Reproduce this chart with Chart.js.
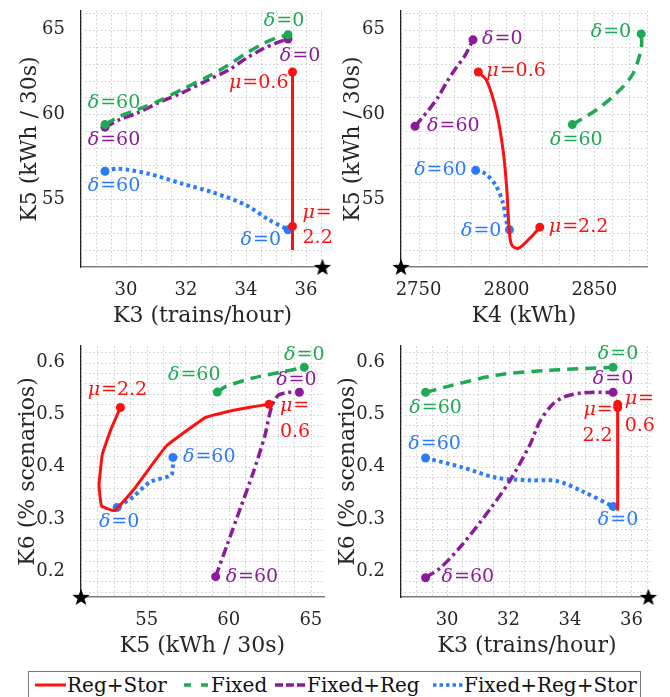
<!DOCTYPE html>
<html><head><meta charset="utf-8">
<script src="https://cdn.jsdelivr.net/npm/chart.js@4.4.1/dist/chart.umd.min.js"></script>
<style>
html,body{margin:0;padding:0;background:#fff;}
body{width:670px;height:697px;position:relative;overflow:hidden;font-family:"DejaVu Serif",serif;}
canvas{position:absolute;}
#legend{position:absolute;left:28px;top:671px;width:613px;height:30px;border:1px solid #7a7a7a;box-sizing:border-box;background:#fff;}
#legend svg{position:absolute;top:10px;}
#legend span{position:absolute;top:0;line-height:26px;font-size:20px;color:#111;white-space:nowrap;}
</style></head>
<body>
<canvas id="c1" width="335" height="335" style="left:0;top:0"></canvas>
<canvas id="c2" width="335" height="335" style="left:335px;top:0"></canvas>
<canvas id="c3" width="335" height="335" style="left:0;top:335px"></canvas>
<canvas id="c4" width="335" height="335" style="left:335px;top:335px"></canvas>
<div id="legend">
  <svg style="left:6px" width="31" height="6"><line x1="0" y1="3" x2="31" y2="3" stroke="#ff1010" stroke-width="3"/></svg>
  <span style="left:38px">Reg+Stor</span>
  <svg style="left:155px" width="25" height="6"><line x1="0" y1="3" x2="25" y2="3" stroke="#1eaa55" stroke-width="3.5" stroke-dasharray="7,10"/></svg>
  <span style="left:182px">Fixed</span>
  <svg style="left:246px" width="31" height="6"><line x1="0" y1="3" x2="31" y2="3" stroke="#8c1a9a" stroke-width="3.5" stroke-dasharray="8,3"/></svg>
  <span style="left:278px">Fixed+Reg</span>
  <svg style="left:404px" width="31" height="6"><line x1="0" y1="3" x2="31" y2="3" stroke="#2b7bff" stroke-width="3.5" stroke-dasharray="3.5,3"/></svg>
  <span style="left:435px">Fixed+Reg+Stor</span>
</div>
<script>
// ---------- data ----------
const utopiaK3 = 36.55, utopiaK4 = 2740, utopiaK5 = 51, utopiaK6 = 0.15;

// Panel 1: K3 vs K5
const p1RegStorK3 = [35.55, 35.55, 35.55, 35.55];
const p1RegStorK5 = [62.5, 57.5, 52.0, 53.4];
const p1FixedK3 = [29.3, 29.8, 30.4, 31.1, 31.9, 32.7, 33.4, 34.0, 34.6, 35.0, 35.4];
const p1FixedK5 = [59.4, 59.9, 60.3, 60.8, 61.5, 62.2, 62.9, 63.6, 64.2, 64.5, 64.7];
const p1FixedRegK3 = [29.3, 29.8, 30.4, 31.1, 31.9, 32.7, 33.4, 34.0, 34.6, 35.0, 35.4];
const p1FixedRegK5 = [59.25, 59.7, 60.1, 60.7, 61.3, 62.0, 62.6, 63.3, 63.9, 64.2, 64.45];
const p1FixedRegStorK3 = [29.3, 29.75, 30.75, 31.9, 32.9, 34.0, 34.75, 35.4];
const p1FixedRegStorK5 = [56.65, 56.8, 56.5, 55.9, 55.4, 54.65, 53.8, 53.2];

// Panel 2: K4 vs K5
const p2RegStorK4 = [2784, 2788.8, 2794.5, 2798.2, 2800.2, 2801.5, 2803, 2806.8, 2813.4, 2819];
const p2RegStorK5 = [62.5, 62.0, 60.1, 57.8, 55.6, 53.3, 52.3, 52.1, 52.7, 53.35];
const p2FixedK4 = [2837.5, 2844, 2851.7, 2860, 2867, 2872, 2875, 2876.7, 2877, 2876.7];
const p2FixedK5 = [59.4, 59.8, 60.3, 61.0, 61.7, 62.4, 63.2, 63.9, 64.3, 64.75];
const p2FixedRegK4 = [2748, 2752, 2756, 2761, 2766, 2771, 2776, 2781];
const p2FixedRegK5 = [59.3, 59.8, 60.3, 61.0, 61.9, 62.7, 63.4, 64.4];
const p2FixedRegStorK4 = [2782.5, 2788, 2794, 2798, 2800, 2801.7];
const p2FixedRegStorK5 = [56.7, 56.5, 55.8, 54.8, 53.7, 53.2];

// Panel 3: K5 vs K6
const p3RegStorK5 = [62.45, 61.2, 60.2, 58.6, 56.2, 54.2, 53.05, 52.25, 52.1, 52.3, 52.8, 53.4];
const p3RegStorK6 = [0.52, 0.514, 0.508, 0.495, 0.440, 0.356, 0.316, 0.325, 0.365, 0.424, 0.47, 0.514];
const p3FixedK5 = [59.3, 59.8, 61.4, 63.2, 64.6];
const p3FixedK6 = [0.5435, 0.554, 0.570, 0.582, 0.591];
const p3FixedRegK5 = [59.2, 59.9, 60.7, 61.5, 62.2, 62.6, 63.0, 63.6, 64.3];
const p3FixedRegK6 = [0.189, 0.25, 0.32, 0.39, 0.46, 0.515, 0.537, 0.543, 0.543];
const p3FixedRegStorK5 = [56.6, 56.6, 56.5, 55.2, 54.2, 53.2];
const p3FixedRegStorK6 = [0.418, 0.402, 0.384, 0.371, 0.343, 0.322];

// Panel 4: K3 vs K6
const p4RegStorK3 = [35.55, 35.55, 35.55];
const p4RegStorK6 = [0.52, 0.316, 0.514];
const p4FixedK3 = [29.3, 30.0, 31.6, 33.25, 35.4];
const p4FixedK6 = [0.543, 0.554, 0.576, 0.585, 0.591];
const p4FixedRegK3 = [29.3, 29.8, 30.5, 31.4, 32.05, 32.7, 33.0, 33.4, 33.8, 34.4, 35.4];
const p4FixedRegK6 = [0.187, 0.207, 0.251, 0.319, 0.374, 0.443, 0.485, 0.518, 0.534, 0.542, 0.543];
const p4FixedRegStorK3 = [29.3, 30.5, 31.6, 32.7, 33.55, 34.4, 35.4];
const p4FixedRegStorK6 = [0.417, 0.399, 0.379, 0.374, 0.373, 0.353, 0.324];

// tick labels
const ticksK3 = [30, 32, 34, 36];
const ticksK4 = [2750, 2800, 2850];
const ticksK5 = [55, 60, 65];
const ticksK6 = [0.2, 0.3, 0.4, 0.5, 0.6];

// ---------- styling ----------
const RED = '#ff1010', GREEN = '#1eaa55', PURPLE = '#8c1a9a', BLUE = '#2b7bff';
const FAM = '"DejaVu Serif", serif';
const styles = [
  {label:'Reg+Stor', color:RED, dash:[], width:3},
  {label:'Fixed', color:GREEN, dash:[11,7], width:3.5},
  {label:'Fixed+Reg', color:PURPLE, dash:[10,4,3,4], width:3.5},
  {label:'Fixed+Reg+Stor', color:BLUE, dash:[3.5,3.5], width:4}
];

function pts(xs, ys){ return xs.map((x,i)=>({x:x, y:ys[i]})); }

const starImg = (function(){
  const c = document.createElement('canvas'); c.width = 20; c.height = 20;
  const g = c.getContext('2d'); g.fillStyle = '#000'; g.beginPath();
  for (let i=0;i<10;i++){
    const r = i%2===0 ? 9 : 3.7;
    const a = -Math.PI/2 + i*Math.PI/5;
    const px = 10 + r*Math.cos(a), py = 10.8 + r*Math.sin(a);
    if(i===0) g.moveTo(px,py); else g.lineTo(px,py);
  }
  g.closePath(); g.fill();
  return c;
})();

function gridPlugin(stepX, stepY){
  return {
    id:'minorGrid',
    beforeDatasetsDraw(chart){
      const {ctx, chartArea:a} = chart;
      const xs = chart.scales.x, ys = chart.scales.y;
      ctx.save();
      ctx.strokeStyle = '#cccccc'; ctx.lineWidth = 1; ctx.setLineDash([1.5,2.5]);
      const i0 = Math.ceil(xs.min/stepX - 1e-9), i1 = Math.floor(xs.max/stepX + 1e-9);
      for(let i=i0;i<=i1;i++){
        const px = Math.round(xs.getPixelForValue(i*stepX))+0.5;
        ctx.beginPath(); ctx.moveTo(px, a.top); ctx.lineTo(px, a.bottom); ctx.stroke();
      }
      const j0 = Math.ceil(ys.min/stepY - 1e-9), j1 = Math.floor(ys.max/stepY + 1e-9);
      for(let j=j0;j<=j1;j++){
        const py = Math.round(ys.getPixelForValue(j*stepY))+0.5;
        ctx.beginPath(); ctx.moveTo(a.left, py); ctx.lineTo(a.right, py); ctx.stroke();
      }
      ctx.restore();
    }
  };
}

function labelPlugin(items){
  return {
    id:'ptLabels',
    afterDatasetsDraw(chart){
      const ctx = chart.ctx, xs = chart.scales.x, ys = chart.scales.y;
      const fN = '19px ' + FAM, fI = 'italic 19px ' + FAM;
      items.forEach(it=>{
        const ds = chart.data.datasets[it.ds];
        const p = it.at==='first' ? ds.data[0] : ds.data[ds.data.length-1];
        const px = xs.getPixelForValue(p.x) + it.dx;
        const py = ys.getPixelForValue(p.y) + it.dy;
        ctx.save();
        ctx.fillStyle = ds.borderColor; ctx.textBaseline = 'middle'; ctx.textAlign = 'left';
        ctx.font = fI; const w1 = it.sym ? ctx.measureText(it.sym).width + 1 : 0;
        ctx.font = fN; const w2 = ctx.measureText(it.txt).width;
        const x0 = it.align==='left' ? px : it.align==='right' ? px-w1-w2 : px-(w1+w2)/2;
        if(it.sym){ ctx.font = fI; ctx.fillText(it.sym, x0, py); }
        ctx.font = fN; ctx.fillText(it.txt, x0+w1, py);
        ctx.restore();
      });
    }
  };
}

function makePanel(id, cfg){
  const cv = document.getElementById(id);
  const W = cv.width, H = cv.height, A = cfg.area;
  const datasets = cfg.series.map((s,i)=>({
    label: styles[i].label,
    data: pts(s[0], s[1]),
    showLine: true,
    borderColor: styles[i].color,
    backgroundColor: styles[i].color,
    borderWidth: styles[i].width,
    borderDash: styles[i].dash,
    borderCapStyle: 'butt',
    tension: cfg.tension ? cfg.tension[i] : 0.3,
    pointRadius: c => (c.dataIndex===0 || c.dataIndex===c.dataset.data.length-1) ? 4.5 : 0,
    pointBorderWidth: 0,
    pointHoverRadius: 0
  }));
  datasets.push({label:'utopia', data:[cfg.star], pointStyle: starImg, pointRadius: 10, showLine:false, clip:false});
  const tickFont = {family:FAM, size:18};
  const titleFont = {family:FAM, size:22};
  new Chart(cv, {
    type:'scatter',
    data:{datasets},
    options:{
      responsive:false, animation:false, devicePixelRatio:1,
      layout:{padding:{left:0, top:A.t, right:W-A.r, bottom:0}},
      plugins:{legend:{display:false}, tooltip:{enabled:false}},
      events:[],
      scales:{
        x:{type:'linear', min:cfg.xr[0], max:cfg.xr[1],
           afterBuildTicks: s=>{ s.ticks = cfg.xt.map(v=>({value:v})); },
           afterFit: s=>{ s.height = H - A.b; s.paddingLeft = 0; s.paddingRight = 0; },
           ticks:{font:tickFont, color:'#262626', padding:5, autoSkip:false, maxRotation:0,
                  callback: v => String(Math.round(v*1000)/1000)},
           grid:{display:false},
           border:{color:'#7a7a7a', width:1.6},
           title:{display:true, text:cfg.xTitle, font:titleFont, color:'#262626', padding:{top:0,bottom:cfg.xtp}}},
        y:{type:'linear', min:cfg.yr[0], max:cfg.yr[1],
           afterBuildTicks: s=>{ s.ticks = cfg.yt.map(v=>({value:v})); },
           afterFit: s=>{ s.width = A.l; s.paddingTop = 0; s.paddingBottom = 0; },
           ticks:{font:tickFont, color:'#262626', padding:8, autoSkip:false,
                  callback: v => String(Math.round(v*1000)/1000)},
           grid:{display:false},
           border:{color:'#222', width:1.4},
           title:{display:true, text:cfg.yTitle, font:titleFont, color:'#262626', padding:{top:cfg.ytp,bottom:0}}}
      }
    },
    plugins:[gridPlugin(cfg.minor[0], cfg.minor[1]), labelPlugin(cfg.labels)]
  });
}

makePanel('c1', {
  area:{l:81,t:7,r:330,b:267}, xr:[28.5,36.6], yr:[51,66.1], xt:ticksK3, yt:ticksK5, minor:[0.5,1],
  xTitle:'K3 (trains/hour)', yTitle:'K5 (kWh / 30s)', xtp:6, ytp:17.5,
  star:{x:utopiaK3, y:utopiaK5},
  series:[[p1RegStorK3,p1RegStorK5],[p1FixedK3,p1FixedK5],[p1FixedRegK3,p1FixedRegK5],[p1FixedRegStorK3,p1FixedRegStorK5]],
  tension:[0,0.3,0.3,0.3],
  labels:[
    {ds:1,at:'last',dx:-4,dy:-14,align:'center',sym:'δ',txt:'=0'},
    {ds:2,at:'last',dx:12,dy:17,align:'center',sym:'δ',txt:'=0'},
    {ds:0,at:'first',dx:-4,dy:11,align:'right',sym:'μ',txt:'=0.6'},
    {ds:1,at:'first',dx:9,dy:-22,align:'center',sym:'δ',txt:'=60'},
    {ds:2,at:'first',dx:9,dy:13,align:'center',sym:'δ',txt:'=60'},
    {ds:3,at:'first',dx:9,dy:15,align:'center',sym:'δ',txt:'=60'},
    {ds:3,at:'last',dx:-7,dy:10,align:'right',sym:'δ',txt:'=0'},
    {ds:0,at:'last',dx:10,dy:-13,align:'left',sym:'μ',txt:'='},
    {ds:0,at:'last',dx:10,dy:12,align:'left',sym:'',txt:'2.2'}
  ]
});

makePanel('c2', {
  area:{l:66,t:7,r:312,b:267}, xr:[2740,2880], yr:[51,66.1], xt:ticksK4, yt:ticksK5, minor:[10,1],
  xTitle:'K4 (kWh)', yTitle:'K5 (kWh / 30s)', xtp:6, ytp:4.8,
  star:{x:utopiaK4, y:utopiaK5},
  series:[[p2RegStorK4,p2RegStorK5],[p2FixedK4,p2FixedK5],[p2FixedRegK4,p2FixedRegK5],[p2FixedRegStorK4,p2FixedRegStorK5]],
  labels:[
    {ds:2,at:'last',dx:9,dy:-1,align:'left',sym:'δ',txt:'=0'},
    {ds:0,at:'first',dx:8,dy:-1,align:'left',sym:'μ',txt:'=0.6'},
    {ds:2,at:'first',dx:12,dy:0,align:'left',sym:'δ',txt:'=60'},
    {ds:1,at:'last',dx:-10,dy:-2,align:'right',sym:'δ',txt:'=0'},
    {ds:1,at:'first',dx:4,dy:15,align:'center',sym:'δ',txt:'=60'},
    {ds:3,at:'first',dx:-9,dy:0,align:'right',sym:'δ',txt:'=60'},
    {ds:3,at:'last',dx:-8,dy:1,align:'right',sym:'δ',txt:'=0'},
    {ds:0,at:'last',dx:9,dy:0,align:'left',sym:'μ',txt:'=2.2'}
  ]
});

makePanel('c3', {
  area:{l:81,t:3,r:327,b:262}, xr:[51,65.8], yr:[0.15,0.632], xt:ticksK5, yt:ticksK6, minor:[1,0.02],
  xTitle:'K5 (kWh / 30s)', yTitle:'K6 (% scenarios)', xtp:11, ytp:14.8,
  star:{x:utopiaK5, y:utopiaK6},
  series:[[p3RegStorK5,p3RegStorK6],[p3FixedK5,p3FixedK6],[p3FixedRegK5,p3FixedRegK6],[p3FixedRegStorK5,p3FixedRegStorK6]],
  tension:[0.1,0.3,0.25,0.2],
  labels:[
    {ds:1,at:'last',dx:0,dy:-12,align:'center',sym:'δ',txt:'=0'},
    {ds:1,at:'first',dx:-23,dy:-17,align:'center',sym:'δ',txt:'=60'},
    {ds:2,at:'last',dx:-3,dy:-12,align:'center',sym:'δ',txt:'=0'},
    {ds:0,at:'last',dx:-3,dy:-17,align:'center',sym:'μ',txt:'=2.2'},
    {ds:0,at:'first',dx:11,dy:2,align:'left',sym:'μ',txt:'='},
    {ds:0,at:'first',dx:11,dy:28,align:'left',sym:'',txt:'0.6'},
    {ds:3,at:'first',dx:10,dy:0,align:'left',sym:'δ',txt:'=60'},
    {ds:3,at:'last',dx:2,dy:15,align:'center',sym:'δ',txt:'=0'},
    {ds:2,at:'first',dx:10,dy:0,align:'left',sym:'δ',txt:'=60'}
  ]
});

makePanel('c4', {
  area:{l:66,t:3,r:318,b:262}, xr:[28.5,36.7], yr:[0.15,0.632], xt:ticksK3, yt:ticksK6, minor:[0.5,0.02],
  xTitle:'K3 (trains/hour)', yTitle:'K6 (% scenarios)', xtp:11, ytp:0,
  star:{x:utopiaK3, y:utopiaK6},
  series:[[p4RegStorK3,p4RegStorK6],[p4FixedK3,p4FixedK6],[p4FixedRegK3,p4FixedRegK6],[p4FixedRegStorK3,p4FixedRegStorK6]],
  tension:[0,0.3,0.3,0.3],
  labels:[
    {ds:1,at:'last',dx:5,dy:-13,align:'center',sym:'δ',txt:'=0'},
    {ds:1,at:'first',dx:10,dy:16,align:'center',sym:'δ',txt:'=60'},
    {ds:2,at:'last',dx:0,dy:-13,align:'center',sym:'δ',txt:'=0'},
    {ds:0,at:'first',dx:7,dy:-5,align:'left',sym:'μ',txt:'='},
    {ds:0,at:'first',dx:7,dy:22,align:'left',sym:'',txt:'0.6'},
    {ds:0,at:'last',dx:-5,dy:3,align:'right',sym:'μ',txt:'='},
    {ds:0,at:'last',dx:-5,dy:29,align:'right',sym:'',txt:'2.2'},
    {ds:3,at:'first',dx:9,dy:-14,align:'center',sym:'δ',txt:'=60'},
    {ds:3,at:'last',dx:5,dy:14,align:'center',sym:'δ',txt:'=0'},
    {ds:2,at:'first',dx:16,dy:-1,align:'left',sym:'δ',txt:'=60'}
  ]
});
</script>
</body></html>
